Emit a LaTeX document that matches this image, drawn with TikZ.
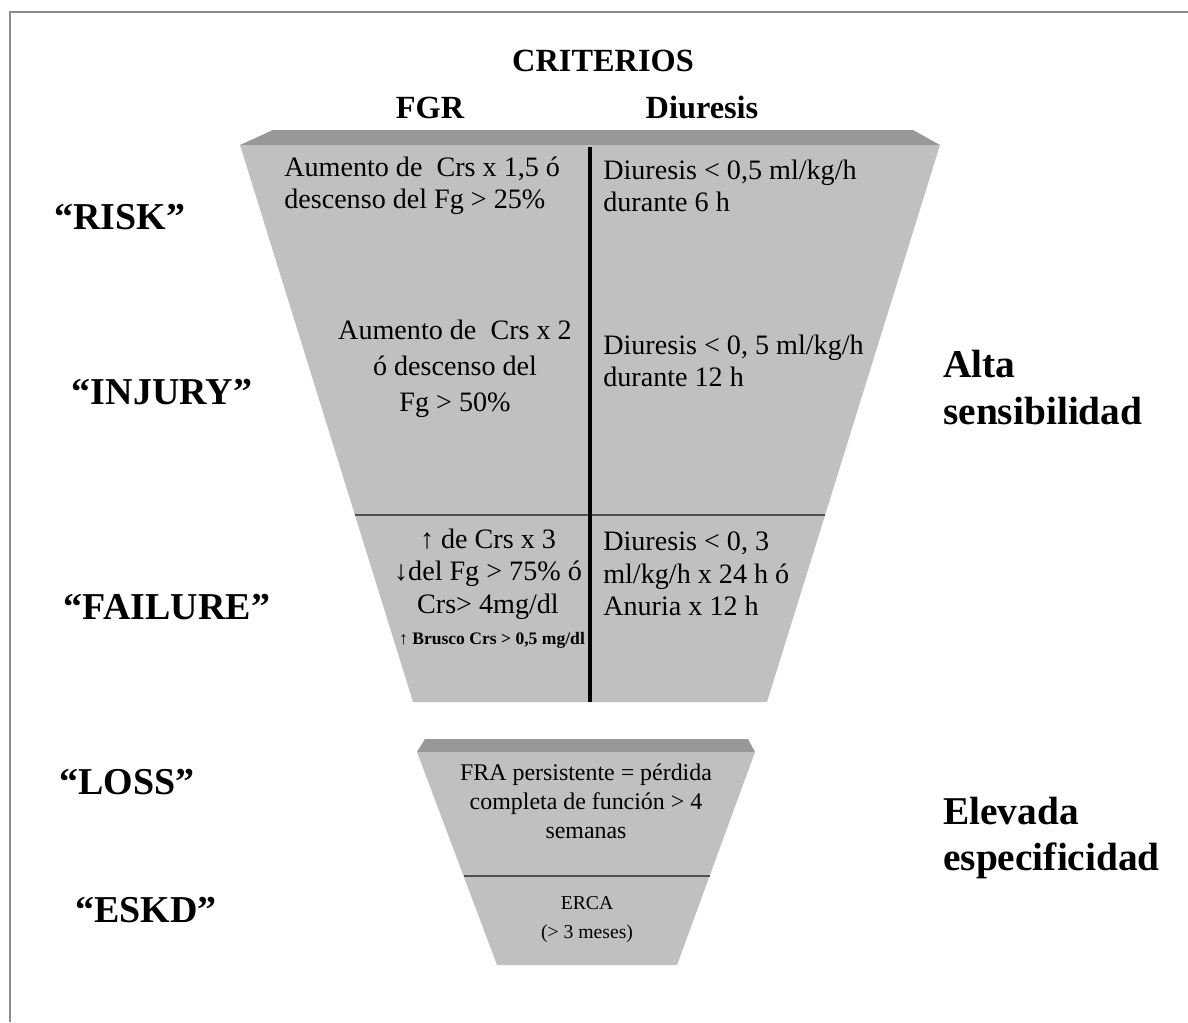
\documentclass[tikz,border=0pt]{standalone}
\usepackage{fontspec}
\setmainfont{Liberation Serif}
\usetikzlibrary{calc}

\definecolor{bodygray}{RGB}{192,192,192}
\definecolor{topgray}{RGB}{152,152,152}
\definecolor{framegray}{RGB}{140,140,140}
\definecolor{rulegray}{RGB}{80,80,80}

\tikzset{
  header/.style = {font=\fontsize{23}{27}\selectfont\bfseries, inner sep=0pt, text height=0.7em, text depth=0.2em},
  stagelabel/.style = {font=\fontsize{27}{32}\selectfont\bfseries, inner sep=0pt},
  sidelabel/.style = {font=\fontsize{28}{33.4}\selectfont\bfseries, align=left, anchor=west, inner sep=0pt},
  celltext/.style = {font=\fontsize{20}{23}\selectfont, align=left, anchor=west, inner sep=0pt},
  cellmid/.style = {font=\fontsize{20}{23}\selectfont, align=center, inner sep=0pt},
  lowtext/.style = {font=\fontsize{17}{20.6}\selectfont, align=center, inner sep=0pt}
}

\begin{document}
\begin{tikzpicture}[x = 0.025cm, y = -0.025cm]
\useasboundingbox (0, 0) rectangle (1188, 1022);
\draw[framegray, line width = 2pt] (10, 1022) -- (10, 12) -- (1188, 12);

% upper funnel
\coordinate (tl) at (240, 145);
\coordinate (tr) at (940, 145);
\coordinate (bl) at (413, 702);
\coordinate (br) at (767, 702);
\fill[topgray] (273, 130) -- (913, 130) -- (tr) -- (tl) -- cycle;
\fill[bodygray] (tl) -- (tr) -- (br) -- (bl) -- cycle;
\draw[rulegray, line width = 1.5pt] ($(tl)!0.664!(bl)$) -- ($(tr)!0.664!(br)$);
\draw[black, line width = 2.2pt] (590, 147) -- (590, 702);

% lower funnel
\coordinate (ltl) at (417, 752);
\coordinate (ltr) at (755, 752);
\coordinate (lbl) at (497, 965);
\coordinate (lbr) at (677, 965);
\fill[topgray] (425, 739) -- (748, 739) -- (ltr) -- (ltl) -- cycle;
\fill[bodygray] (ltl) -- (ltr) -- (lbr) -- (lbl) -- cycle;
\draw[rulegray, line width = 1.5pt] ($(ltl)!0.582!(lbl)$) -- ($(ltr)!0.582!(lbr)$);

\node[header] (crit) at (603, 68) {CRITERIOS};
\node[header] (fgr) at (430, 115) {FGR};
\node[header] (diur) at (702, 115) {Diuresis};

\node[stagelabel] (risk) at (120, 217) {“RISK”};
\node[stagelabel] (injury) at (162, 392) {“INJURY”};
\node[stagelabel] (failure) at (167, 607) {“FAILURE”};
\node[stagelabel] (loss) at (127, 782) {“LOSS”};
\node[stagelabel] (eskd) at (146, 910) {“ESKD”};

\node[sidelabel] (alta) at (943, 388) {Alta\\sensibilidad};
\node[sidelabel] (elev) at (943, 838) {Elevada\\especificidad};

\node[celltext] (riskfgr) at (284, 186) {Aumento de \ Crs x 1,5 ó\\descenso del Fg > 25\%};
\node[celltext] (riskdiu) at (603, 186) {Diuresis < 0,5 ml/kg/h\\durante 6 h};
\node[cellmid, font=\fontsize{20}{25.5}\selectfont] (injfgr) at (455, 369) {Aumento de \ Crs x 2\\ó descenso del\\Fg > 50\%};
\node[celltext] (injdiu) at (603, 361) {Diuresis < 0, 5 ml/kg/h\\durante 12 h};
\node[cellmid] (failfgr) at (488, 574) {↑ de Crs x 3\\↓del Fg > 75\% ó\\Crs> 4mg/dl};
\node[inner sep=0pt, font=\fontsize{12.5}{14}\selectfont\bfseries] (failtiny) at (492, 640) {↑ Brusco Crs > 0,5 mg/dl};
\node[celltext] (faildiu) at (603, 574) {Diuresis < 0, 3\\ml/kg/h x 24 h ó\\Anuria x 12 h};

\node[lowtext] (lossbox) at (586, 801) {FRA persistente = pérdida\\completa de función > 4\\semanas};
\node[lowtext, font=\fontsize{14}{20.6}\selectfont] (eskdbox) at (587, 920) {ERCA\\(> 3 meses)};
\end{tikzpicture}
\end{document}
